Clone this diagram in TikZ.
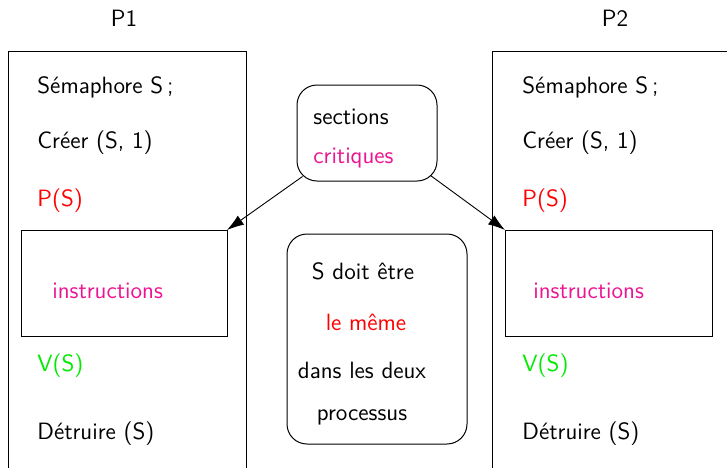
\documentclass[tikz,border=0pt]{standalone}
\usepackage{fontspec}
\usetikzlibrary{arrows.meta}
\definecolor{critpink}{RGB}{236,20,146}
\definecolor{semred}{RGB}{255,0,0}
\definecolor{semgreen}{RGB}{0,235,0}
\begin{document}
\begin{tikzpicture}[x=0.5pt,y=-0.5pt,
  every node/.style={font=\sffamily\fontsize{11.8}{14}\selectfont, inner sep=0pt},
  line/.style={anchor=base west},
  frame/.style={draw, line width=0.5pt},
  roundbox/.style={draw, line width=0.5pt, rounded corners=10pt},
  pointer/.style={line width=0.45pt, -{Latex[length=8.5pt,width=5.5pt]}}]
\useasboundingbox (0,0) rectangle (727,467);

% process titles
\node[anchor=base] (p1) at (124,26) {P1};
\node[anchor=base] (p2) at (615,26) {P2};

% outer process frames (continuing past the page edges)
\draw[line width=0.5pt] (8,480) -- (8,51) -- (246,51) -- (246,480);
\draw[line width=0.5pt] (492,480) -- (492,51) -- (740,51);

% process P1
\node[line] (a1) at (37,93)  {Sémaphore S\,;};
\node[line] (b1) at (37,148) {Créer (S, 1)};
\node[line,text=semred] (c1) at (37,206) {P(S)};
\draw[frame] (21,230) rectangle (227,336);
\coordinate (inL) at (227,230);
\node[line,text=critpink] (i1) at (52,298) {instructions};
\node[line,text=semgreen] (d1) at (37,371) {V(S)};
\node[line] (e1) at (37,439) {Détruire (S)};

% process P2
\node[line] (a2) at (522,93)  {Sémaphore S\,;};
\node[line] (b2) at (522,148) {Créer (S, 1)};
\node[line,text=semred] (c2) at (522,206) {P(S)};
\draw[frame] (505,230) rectangle (712,336);
\coordinate (inR) at (505,230);
\node[line,text=critpink] (i2) at (533,298) {instructions};
\node[line,text=semgreen] (d2) at (522,371) {V(S)};
\node[line] (e2) at (522,439) {Détruire (S)};

% critical sections note
\node[roundbox, minimum width=70pt, minimum height=48pt] (sec) at (367,133) {};
\node[line] (s1) at (313,124) {sections};
\node[line,text=critpink] (s2) at (313,163) {critiques};

% shared semaphore note
\node[roundbox, minimum width=90pt, minimum height=105pt] (note) at (377,339) {};
\node[anchor=base] (n1) at (363,279) {S doit être};
\node[anchor=base,text=semred] (n2) at (366,330) {le même};
\node[anchor=base] (n3) at (362,378) {dans les deux};
\node[anchor=base] (n4) at (362,420) {processus};

% arrows to the critical sections
\draw[pointer] ([shift={(6,-5)}]sec.south west) -- (inL);
\draw[pointer] ([shift={(-7,-6)}]sec.south east) -- (inR);
\end{tikzpicture}
\end{document}
